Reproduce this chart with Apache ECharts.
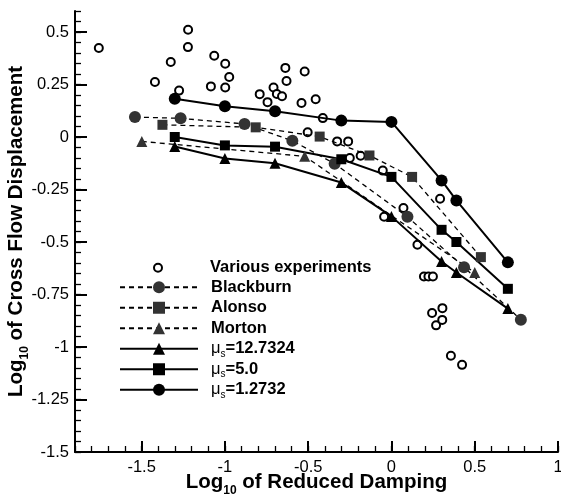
<!DOCTYPE html>
<html>
<head>
<meta charset="utf-8">
<script src="https://cdn.jsdelivr.net/npm/echarts@6/dist/echarts.min.js"></script>
<style>
  html, body { margin: 0; padding: 0; background: #fff; }
  #chart { width: 561px; height: 498px; }
</style>
</head>
<body>
<div id="chart"></div>
<script>
// open circles: various experiments
const expX = [-1.757, -1.42, -1.325, -1.221, -1.222, -1.275, -1.064, -0.998, -0.974, -1.084, -0.998,
  -0.791, -0.744, -0.708, -0.688, -0.657, -0.637, -0.63, -0.521, -0.54, -0.455, -0.412, -0.503,
  -0.326, -0.26, -0.25, -0.185, -0.052, -0.044, 0.072, 0.156, 0.195, 0.222, 0.249, 0.292,
  0.244, 0.306, 0.268, 0.305, 0.357, 0.424];
const expY = [0.424, 0.262, 0.357, 0.511, 0.428, 0.221, 0.387, 0.349, 0.286, 0.241, 0.236,
  0.204, 0.166, 0.236, 0.205, 0.194, 0.329, 0.267, 0.312, 0.162, 0.18, 0.09, 0.023,
  -0.021, -0.021, -0.1, -0.089, -0.16, -0.38, -0.338, -0.513, -0.664, -0.664, -0.664, -0.294,
  -0.838, -0.815, -0.897, -0.871, -1.042, -1.085];

// other models (dashed)
const blackburnX = [-1.54, -1.266, -0.882, -0.595, -0.341, 0.096, 0.436, 0.777];
const blackburnY = [0.095, 0.089, 0.062, -0.018, -0.127, -0.38, -0.62, -0.87];
const alonsoX = [-1.375, -0.815, -0.431, -0.132, 0.124, 0.537];
const alonsoY = [0.058, 0.046, 0.002, -0.088, -0.19, -0.572];
const mortonX = [-1.499, -0.521, 0.5];
const mortonY = [-0.021, -0.092, -0.645];

// present model, three mass ratios
const muX = [-1.301, -1, -0.699, -0.301, 0, 0.301, 0.39, 0.699];
const mu12Y = [-0.045, -0.102, -0.125, -0.217, -0.378, -0.593, -0.645, -0.817];
const mu5Y = [0.0, -0.04, -0.046, -0.106, -0.19, -0.442, -0.5, -0.723];
const mu1Y = [0.182, 0.146, 0.123, 0.078, 0.072, -0.207, -0.302, -0.597];

const xLabels = [-1.5, -1, -0.5, 0, 0.5, 1];
const yLabels = [-1.5, -1.25, -1, -0.75, -0.5, -0.25, 0, 0.25, 0.5];

const font = 'Liberation Sans, Arial, sans-serif';
const pairs = (xs, ys) => xs.map((x, i) => [x, ys[i]]);

const myChart = echarts.init(document.getElementById('chart'));

const dashed = { color: '#000', width: 1.3, type: [5, 4] };
const solid = { color: '#000', width: 2 };

const legendText = {
  fontFamily: font,
  fontSize: 16.5,
  fontWeight: 'bold',
  color: '#000',
  lineHeight: 20.5,
  rich: {
    gap: { width: 8 },
    mu: { fontSize: 16.5, fontWeight: 'normal', lineHeight: 20.5 },
    sub: { fontSize: 10, fontWeight: 'normal', padding: [10, 0, 0, 0], lineHeight: 20.5 }
  }
};
const legendFmt = (name) => '{gap| }' + name.replace('μs', '{mu|μ}{sub|s}');

const axisName = {
  fontFamily: font,
  fontSize: 20.5,
  fontWeight: 'bold',
  color: '#000',
  rich: {
    s: { fontFamily: font, fontSize: 12, fontWeight: 'bold', color: '#000', padding: [18, 0, 0, 0] }
  }
};

const options = {
  animation: false,
  textStyle: { fontFamily: font },
  grid: { left: 75, right: 3, top: 11, bottom: 46, containLabel: false, outerBoundsMode: 'none' },
  legend: [
    {
      data: ['Various experiments'],
      orient: 'vertical',
      left: 119, top: 257.5,
      padding: 0,
      itemWidth: 78, itemHeight: 10,
      textStyle: legendText,
      formatter: legendFmt
    },
    {
      data: ['Blackburn', 'Alonso', 'Morton', 'μs=12.7324', 'μs=5.0', 'μs=1.2732'],
      orient: 'vertical',
      left: 119, top: 277,
      padding: 0,
      itemGap: 0,
      itemWidth: 78, itemHeight: 15,
      textStyle: legendText,
      formatter: legendFmt
    }
  ],
  xAxis: [
    {
      type: 'value', min: -1.9, max: 1, interval: 0.1,
      position: 'bottom',
      name: 'Log{s|10} of Reduced Damping',
      nameLocation: 'middle', nameGap: 15, nameMoveOverlap: false,
      nameTextStyle: axisName,
      axisLine: { onZero: false, lineStyle: { color: '#000', width: 2 } },
      axisTick: { inside: true, length: 6, lineStyle: { color: '#000', width: 1.3 } },
      axisLabel: { customValues: xLabels, fontSize: 16.5, color: '#000', margin: 7, fontFamily: font },
      splitLine: { show: false }
    },
    {
      type: 'value', min: -1.9, max: 1,
      position: 'bottom',
      axisLine: { show: false, onZero: false },
      axisTick: { inside: true, length: 11, customValues: xLabels, lineStyle: { color: '#000', width: 2 } },
      axisLabel: { show: false },
      splitLine: { show: false }
    }
  ],
  yAxis: [
    {
      type: 'value', min: -1.5, max: 0.6, interval: 0.05,
      position: 'left',
      name: 'Log{s|10} of Cross Flow Displacement',
      nameLocation: 'middle', nameGap: 44, nameRotate: 90, nameMoveOverlap: false,
      nameTextStyle: axisName,
      axisLine: { onZero: false, lineStyle: { color: '#000', width: 2 } },
      axisTick: { inside: true, length: 6, lineStyle: { color: '#000', width: 1.3 } },
      axisLabel: { customValues: yLabels, fontSize: 16.5, color: '#000', margin: 6, fontFamily: font },
      splitLine: { show: false }
    },
    {
      type: 'value', min: -1.5, max: 0.6,
      position: 'left',
      axisLine: { show: false, onZero: false },
      axisTick: { inside: true, length: 12, customValues: yLabels, lineStyle: { color: '#000', width: 2 } },
      axisLabel: { show: false },
      splitLine: { show: false }
    }
  ],
  series: [
    {
      // points only: the connecting line is switched off
      name: 'Various experiments', type: 'line',
      symbol: 'emptyCircle', symbolSize: 8,
      lineStyle: { width: 0, opacity: 0 },
      itemStyle: { color: '#000', borderWidth: 1.5 },
      data: pairs(expX, expY), z: 1
    },
    {
      name: 'Blackburn', type: 'line', symbol: 'circle', symbolSize: 12,
      lineStyle: dashed, itemStyle: { color: '#333' },
      data: pairs(blackburnX, blackburnY)
    },
    {
      name: 'Alonso', type: 'line', symbol: 'rect', symbolSize: 10,
      lineStyle: dashed, itemStyle: { color: '#333' },
      data: pairs(alonsoX, alonsoY)
    },
    {
      name: 'Morton', type: 'line', symbol: 'triangle', symbolSize: 11,
      lineStyle: dashed, itemStyle: { color: '#333' },
      data: pairs(mortonX, mortonY)
    },
    {
      name: 'μs=12.7324', type: 'line', symbol: 'triangle', symbolSize: 11,
      lineStyle: solid, itemStyle: { color: '#000' },
      data: pairs(muX, mu12Y)
    },
    {
      name: 'μs=5.0', type: 'line', symbol: 'rect', symbolSize: 10,
      lineStyle: solid, itemStyle: { color: '#000' },
      data: pairs(muX, mu5Y)
    },
    {
      name: 'μs=1.2732', type: 'line', symbol: 'circle', symbolSize: 12,
      lineStyle: solid, itemStyle: { color: '#000' },
      data: pairs(muX, mu1Y)
    }
  ]
};

myChart.setOption(options);
</script>
</body>
</html>
